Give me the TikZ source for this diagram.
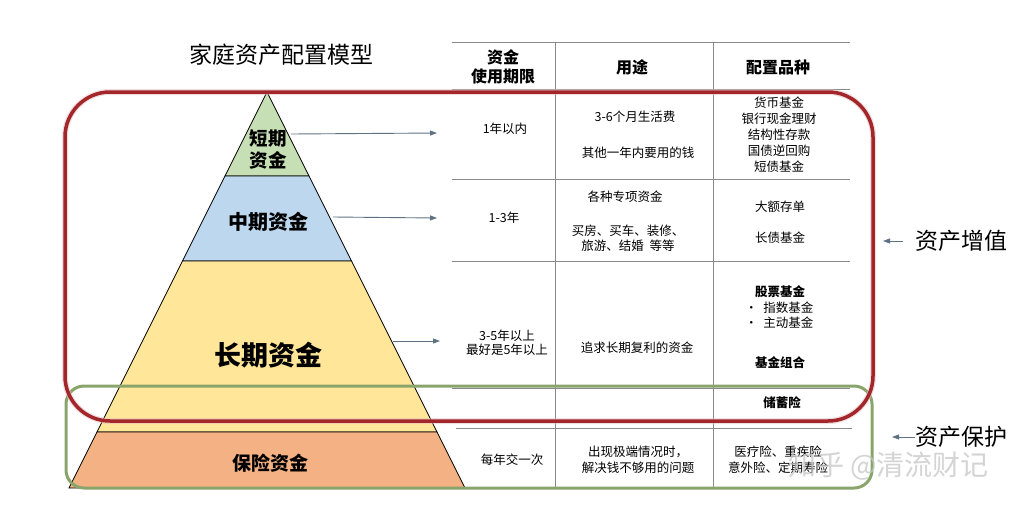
\documentclass[tikz,border=0pt]{standalone}
\usepackage{fontspec}
\setmainfont{Noto Sans CJK SC}
\usepackage{xcolor}
\usetikzlibrary{arrows.meta}
\definecolor{shortgreen}{HTML}{C6DFB4}
\definecolor{midblue}{HTML}{BDD7EE}
\definecolor{longyellow}{HTML}{FFE699}
\definecolor{insorange}{HTML}{F4B183}
\definecolor{gridgray}{HTML}{8A8A8A}
\definecolor{arrowgray}{HTML}{5F7283}
\definecolor{boxred}{HTML}{A3262B}
\definecolor{boxgreen}{HTML}{8AA56C}

\begin{document}
\begin{tikzpicture}[x=1pt, y=-1pt,
  cell/.style={font=\fontsize{12.5}{15}\selectfont, align=center, inner sep=0pt},
  head/.style={font=\fontsize{16}{19}\selectfont\bfseries, align=center, inner sep=0pt},
  layer/.style={font=\bfseries, align=center, inner sep=0pt},
  flow/.style={draw=arrowgray, line width=0.9pt, -{Triangle[length=7pt,width=5pt]}},
  grid/.style={draw=gridgray, line width=0.8pt}]
\useasboundingbox[fill=white] (0,0) rectangle (1036,512);

% Title
\node[font=\fontsize{23}{26}\selectfont] (title) at (281,55) {家庭资产配置模型};

% Pyramid layers
\foreach \ya/\yb/\col in {92/176/shortgreen, 176/261/midblue, 261/432/longyellow, 432/488/insorange} {
    \filldraw[fill=\col, draw=black, line width=0.8pt] ({267-0.5*(\ya-92)},\ya) -- ({267+0.5*(\ya-92)},\ya) -- ({267+0.5*(\yb-92)},\yb) -- ({267-0.5*(\yb-92)},\yb) -- cycle;
}
\node[layer, font=\fontsize{18.5}{22}\selectfont\bfseries] (short) at (268,149) {短期\\资金};
\node[layer, font=\fontsize{20}{24}\selectfont\bfseries] (mid) at (268,222) {中期资金};
\node[layer, font=\fontsize{27}{30}\selectfont\bfseries] (long) at (268,355) {长期资金};
\node[layer, font=\fontsize{19}{22}\selectfont\bfseries] (insure) at (270,463) {保险资金};

% Table lines
\draw[grid] (452,42) -- (850,42);
\foreach \y in {89, 179, 261, 388} {
    \draw[grid] (452,\y) -- (850,\y);
}
\draw[grid] (456,428) -- (852,428);
\foreach \x in {555, 713} {
    \draw[grid] (\x,42) -- (\x,488);
}

% Header
\node[head] (hterm) at (503,67) {资金\\使用期限};
\node[head] (huse) at (632,67) {用途};
\node[head] (hkind) at (778,67) {配置品种};

% Short term row
\node[cell] (t1) at (505,129) {1年以内};
\node[cell] (u1a) at (635,117) {3-6个月生活费};
\node[cell] (u1b) at (638,153) {其他一年内要用的钱};
\node[cell, font=\fontsize{12.5}{16}\selectfont] (k1) at (779,135) {货币基金\\银行现金理财\\结构性存款\\国债逆回购\\短债基金};

% Mid term row
\node[cell] (t2) at (504,218) {1-3年};
\node[cell] (u2a) at (625,197) {各种专项资金};
\node[cell, font=\fontsize{12.5}{15.5}\selectfont] (u2b) at (628,238) {买房、买车、装修、\\旅游、结婚\ \ 等等};
\node[cell] (k2a) at (780,207) {大额存单};
\node[cell] (k2b) at (780,238) {长债基金};

% Long term row
\node[cell, font=\fontsize{12.5}{14.5}\selectfont] (t3) at (507,343) {3-5年以上\\最好是5年以上};
\node[cell] (u3) at (637,348) {追求长期复利的资金};
\node[cell, font=\fontsize{12.5}{15}\selectfont\bfseries] (k3a) at (780,292) {股票基金};
\node[cell, anchor=west] (k3b) at (745,308) {•\ \ 指数基金};
\node[cell, anchor=west] (k3c) at (745,323) {•\ \ 主动基金};
\node[cell, font=\fontsize{12.5}{15}\selectfont\bfseries] (k3d) at (780,363) {基金组合};
\node[cell, font=\fontsize{12.5}{15}\selectfont\bfseries] (k4) at (782,403) {储蓄险};

% Insurance row
\node[cell] (t5) at (512,460) {每年交一次};
\node[cell, font=\fontsize{12.5}{16}\selectfont] (u5) at (638,460) {出现极端情况时，\\解决钱不够用的问题};
\node[cell, font=\fontsize{12.5}{16}\selectfont] (k5) at (778,460) {医疗险、重疾险\\意外险、定期寿险};

% Arrows from the pyramid
\coordinate (s1) at (291,134); \coordinate (e1) at (437,133);
\coordinate (s2) at (333,217); \coordinate (e2) at (437,218);
\coordinate (s3) at (393,341); \coordinate (e3) at (440,341);
\draw[flow] (s1) -- (e1);
\draw[flow] (s2) -- (e2);
\draw[flow] (s3) -- (e3);

% Group boxes
\draw[boxgreen, line width=3pt, rounded corners=18pt] (66,386) rectangle (872,488);
\draw[boxred!30, line width=6pt, opacity=0.5, rounded corners=45pt] (65,92) rectangle (873,421);
\draw[boxred, line width=3.5pt, rounded corners=45pt] (65,92) rectangle (873,421);

% Side labels
\node[font=\fontsize{23}{26}\selectfont, anchor=west, inner sep=0pt] (grow) at (915,241) {资产增值};
\node[font=\fontsize{23}{26}\selectfont, anchor=west, inner sep=0pt] (protect) at (915,437) {资产保护};
\coordinate (g0) at (903,241); \coordinate (g1) at (883,241);
\coordinate (p1) at (892,437);
\draw[flow, line width=0.8pt] (g0) -- (g1);
\draw[flow, line width=0.8pt] (protect.west) -- (p1);

% Watermark
\node[font=\fontsize{28}{30}\selectfont, text=gray!45, opacity=0.75, anchor=west, inner sep=0pt] (watermark) at (788,466) {知乎 @清流财记};

\end{tikzpicture}
\end{document}
